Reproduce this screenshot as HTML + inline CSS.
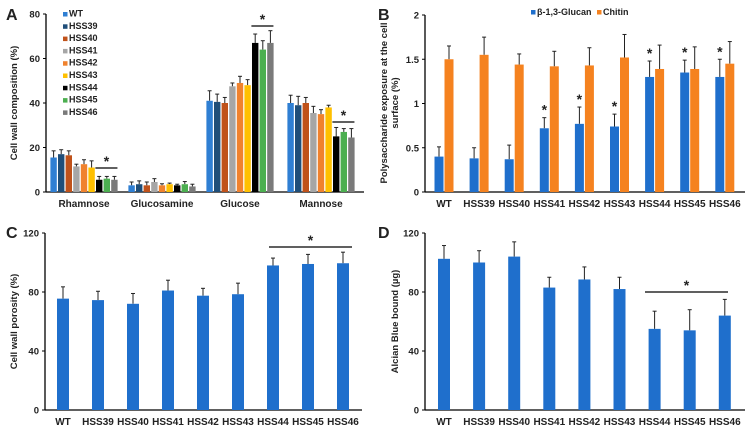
<!DOCTYPE html>
<html><head><meta charset="utf-8"><style>
body{margin:0;background:#fff;width:745px;height:430px;overflow:hidden}
svg text{font-family:"Liberation Sans",Arial,sans-serif;font-weight:bold;fill:#222}
</style></head><body>
<svg id="s" width="745" height="430" viewBox="0 0 745 430" xmlns="http://www.w3.org/2000/svg"></svg>
<script>
const strains=["WT","HSS39","HSS40","HSS41","HSS42","HSS43","HSS44","HSS45","HSS46"];
const sugars=["Rhamnose","Glucosamine","Glucose","Mannose"];
const aVals=[[15.5,17,16.5,11.5,12.5,11,5.5,6,5.5],[3,3.5,3,4.5,3,3.5,3,3.5,2.5],[41,40.5,40,47.5,49,48,67,64,67],[40,39,40,35.5,35,38,25,27,24.5]];
const aErr=[[3,2,2,1,2,3,1.5,1,1.5],[1.5,1.5,1.5,1.5,0.7,0.5,0.5,1.2,1],[4.5,3.5,2.5,1.5,3,2.5,4,4,5.5],[3.5,4,2.5,3,2,1,4,1.5,4]];
const aTicks=[0,20,40,60,80];
const bGlucan=[0.40,0.38,0.37,0.72,0.77,0.74,1.30,1.35,1.30];
const bGlucanErr=[0.11,0.12,0.16,0.12,0.19,0.14,0.18,0.14,0.20];
const bChitin=[1.50,1.55,1.44,1.42,1.43,1.52,1.39,1.39,1.45];
const bChitinErr=[0.15,0.20,0.12,0.17,0.20,0.26,0.27,0.25,0.25];
const bTicks=[0,0.5,1,1.5,2];
const cVals=[75.5,74.5,72,81,77.5,78.5,98,99,99.5];
const cErr=[8,6,7,7,5,7.5,5,6.5,7.5];
const dVals=[102.5,100,104,83,88.5,82,55,54,64];
const dErr=[9,8,10,7,8.5,8,12,14,11];
const cdTicks=[0,40,80,120];

const S=document.getElementById('s');
const NS="http://www.w3.org/2000/svg";
function el(tag,at,txt){const e=document.createElementNS(NS,tag);for(const k in at)e.setAttribute(k,at[k]);if(txt!==undefined)e.textContent=txt;S.appendChild(e);return e;}
const colors=["#2f7fd3","#1f4e79","#c0521a","#a6a6a6","#f0822e","#ffc000","#000000","#4caf50","#7a7a7a"];
const BLUE="#1f6fcc",ORANGE="#f5821f";

function axes(x0,x1,y0,y1,ticks,max,fmt,title,ty,pfx){
  const ys=v=>y0-(v/max)*(y0-y1);
  let a=el('line',{x1:x0,y1:y1,x2:x0,y2:y0,stroke:'#000','stroke-width':1.3});
  
  a=el('line',{x1:x0,y1:y0,x2:x1,y2:y0,stroke:'#000','stroke-width':1.3});
  
  ticks.forEach(t=>{const y=ys(t);el('line',{x1:x0-3,y1:y,x2:x0,y2:y,stroke:'#000'});
    const tx=el('text',{x:x0-6,y:y+3.5,'font-size':9.5,'text-anchor':'end'},fmt(t));
    });
  const tt=el('text',{x:0,y:0,'font-size':9.5,'text-anchor':'middle',transform:`translate(${ty},${(y0+y1)/2}) rotate(-90)`},title);
  
  return ys;
}
function bar(x,w,v,e,ys,y0,c,name){
  const yt=ys(v),ye=ys(v+e);
  el('line',{x1:x+w/2,y1:yt,x2:x+w/2,y2:ye,stroke:'#222','stroke-width':1});
  el('line',{x1:x+w/2-2,y1:ye,x2:x+w/2+2,y2:ye,stroke:'#222','stroke-width':1});
  const r=el('rect',{x:x,y:yt,width:w,height:y0-yt,fill:c});
  
}
function sig(xa,xb,y,pfx){
  const l=el('line',{x1:xa,y1:y,x2:xb,y2:y,stroke:'#000','stroke-width':1.3});
  
  const t=el('text',{x:(xa+xb)/2,y:y-2,'font-size':14,'text-anchor':'middle'},'*');
  
}
function label(t,x,y,n){const e=el('text',{x:x,y:y,'font-size':16},t);}

// Panel A
label('A',6,20,'panel-a-label');
let ysA=axes(46,364,192,14,aTicks,80,t=>t,'Cell wall composition (%)',17,'panel-a');
const gC=[84,162,240,321];
sugars.forEach((s,g)=>{
  strains.forEach((st,i)=>{const cx=gC[g]+(i-4)*7.6;bar(cx-3.2,6.4,aVals[g][i],aErr[g][i],ysA,192,colors[i],'bar-a-'+s.toLowerCase()+'-'+st.toLowerCase());});
  const t=el('text',{x:gC[g],y:207,'font-size':10,'text-anchor':'middle'},s);
  
});
[[0,168],[2,26],[3,122]].forEach(([g,y])=>sig(gC[g]+1.5*7.6,gC[g]+4.4*7.6,y,'panel-a'));
strains.forEach((st,i)=>{const y=16+i*12.3;
  const r=el('rect',{x:63,y:y-4,width:4.5,height:4.5,fill:colors[i]});
  const t=el('text',{x:69,y:y+0.5,'font-size':9},st);});

// Panel B
label('B',378,20,'panel-b-label');
let ysB=axes(425,745,192,15,bTicks,2,t=>t,'',0,'panel-b');
['Polysaccharide exposure at the cell','surface (%)'].forEach((l,k)=>{const t=el('text',{x:0,y:0,'font-size':9.5,'text-anchor':'middle',transform:`translate(${387+k*11},103) rotate(-90)`},l);});
strains.forEach((st,i)=>{const cx=444+i*35.1;
  bar(cx-9.5,9,bGlucan[i],bGlucanErr[i],ysB,192,BLUE,'bar-b-glucan-'+st.toLowerCase());
  bar(cx+0.5,9,bChitin[i],bChitinErr[i],ysB,192,ORANGE,'bar-b-chitin-'+st.toLowerCase());
  const t=el('text',{x:cx,y:207,'font-size':10,'text-anchor':'middle'},st);
  if(i>=3){const s=el('text',{x:cx-5,y:ysB(bGlucan[i]+bGlucanErr[i])-3,'font-size':14,'text-anchor':'middle'},'*');}
});
[[531,BLUE,'β-1,3-Glucan','legend-glucan'],[597,ORANGE,'Chitin','legend-chitin']].forEach(([x,c,t,n])=>{
  const r=el('rect',{x:x,y:10,width:4.5,height:4.5,fill:c});
  const e=el('text',{x:x+6,y:15,'font-size':9},t);});

// Panel C
label('C',6,238,'panel-c-label');
let ysC=axes(45,362,410,233,cdTicks,120,t=>t,'Cell wall porosity (%)',17,'panel-c');
strains.forEach((st,i)=>{const cx=63+i*35;bar(cx-6,12,cVals[i],cErr[i],ysC,410,BLUE,'bar-c-'+st.toLowerCase());
  const t=el('text',{x:cx,y:425,'font-size':10,'text-anchor':'middle'},st);});
sig(269,352,247,'panel-c');

// Panel D
label('D',378,238,'panel-d-label');
let ysD=axes(425,745,410,233,cdTicks,120,t=>t,'Alcian Blue bound (µg)',398,'panel-d');
strains.forEach((st,i)=>{const cx=444+i*35.1;bar(cx-6,12,dVals[i],dErr[i],ysD,410,BLUE,'bar-d-'+st.toLowerCase());
  const t=el('text',{x:cx,y:425,'font-size':10,'text-anchor':'middle'},st);});
sig(645,728,292,'panel-d');
</script>
</body></html>
